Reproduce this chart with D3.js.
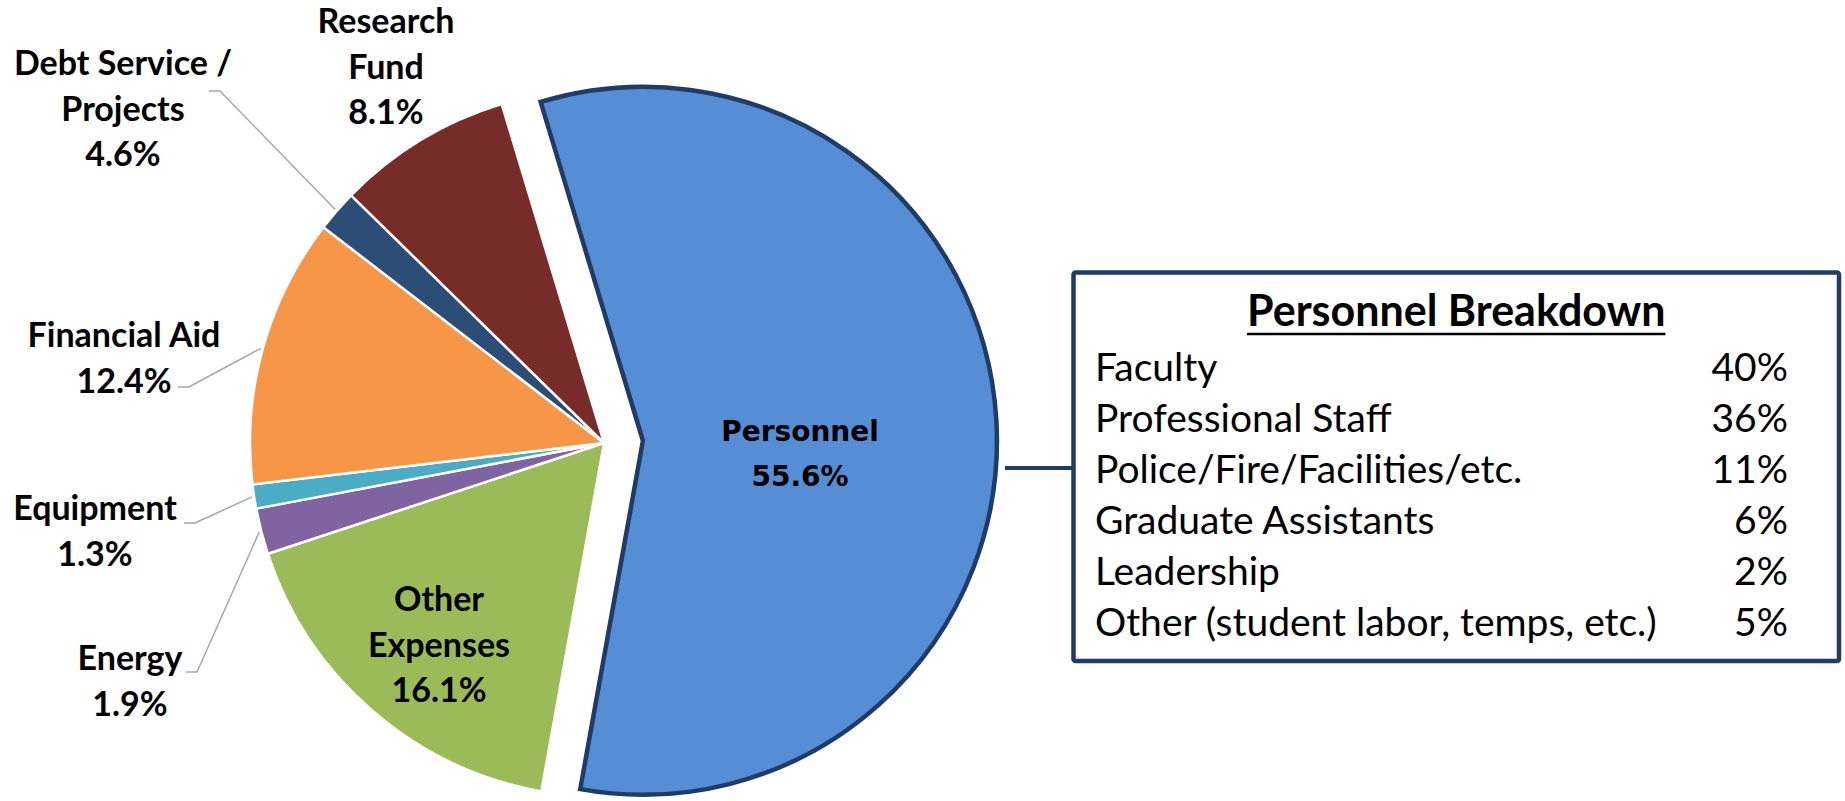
<!DOCTYPE html>
<html>
<head>
<meta charset="utf-8">
<script src="https://cdn.jsdelivr.net/npm/d3@7"></script>
<style>
    body { margin: 0; background: #fff; }
    text { font-family: Lato, 'Open Sans', sans-serif; }
</style>
</head>
<body>
<svg id="drawing_region"></svg>
<script>
// slices run clockwise, starting with Personnel
const categories = ['Personnel', 'Other Expenses', 'Energy', 'Equipment', 'Financial Aid', 'Debt Service / Projects', 'Research Fund'];
// size of each slice as drawn in the picture (% of circle)
const shares = [57.5, 17.1, 2.1, 1.1, 12.3, 1.9, 8.0];
// percentages printed on the labels
const pctLabels = ['55.6%', '16.1%', '1.9%', '1.3%', '12.4%', '4.6%', '8.1%'];
const colors = ['#558ed5', '#9bbb59', '#8064a2', '#4bacc6', '#f79646', '#2c4d75', '#772c2a'];

const breakdownItems = ['Faculty', 'Professional Staff', 'Police/Fire/Facilities/etc.', 'Graduate Assistants', 'Leadership', 'Other (student labor, temps, etc.)'];
const breakdownValues = ['40%', '36%', '11%', '6%', '2%', '5%'];

const data = categories.map((c, i) => ({ category: c, share: shares[i], pct: pctLabels[i], color: colors[i] }));

const config = {
    width: 1845,
    height: 801,
    cx: 604,
    cy: 443,
    radius: 354,
    explode: 39,
    startDeg: -16.8,
    navy: '#1f3b66'
};

// where the label blocks sit (first baseline), and where leaders start
const labelLayout = {
    'Personnel':               { x: 800, y: 441, lines: ['Personnel'], inside: true, verdana: true },
    'Other Expenses':          { x: 439, y: 611, lines: ['Other', 'Expenses'], inside: true },
    'Energy':                  { x: 130, y: 670, lines: ['Energy'], leader: [186, 672] },
    'Equipment':               { x: 95,  y: 520, lines: ['Equipment'], leader: [184, 523] },
    'Financial Aid':           { x: 124, y: 347, lines: ['Financial Aid'], leader: [178, 387] },
    'Debt Service / Projects': { x: 123, y: 75,  lines: ['Debt Service /', 'Projects'], leader: [209, 91] },
    'Research Fund':           { x: 386, y: 33,  lines: ['Research', 'Fund'] }
};

const svg = d3.select('#drawing_region')
    .attr('width', config.width)
    .attr('height', config.height);

const rad = d => d * Math.PI / 180;

const pie = d3.pie()
    .sort(null)
    .value(d => d.share)
    .startAngle(rad(config.startDeg))
    .endAngle(rad(config.startDeg + 360));

const arc = d3.arc()
    .innerRadius(0)
    .outerRadius(config.radius);

const arcs = pie(data);

const chart = svg.append('g')
    .attr('transform', `translate(${config.cx}, ${config.cy})`);

function offsetOf(d) {
    if (d.data.category !== 'Personnel') return [0, 0];
    const mid = (d.startAngle + d.endAngle) / 2;
    return [Math.sin(mid) * config.explode, -Math.cos(mid) * config.explode];
}

chart.selectAll('path.slice')
    .data(arcs)
    .enter()
    .append('path')
    .attr('class', 'slice')
    .attr('d', arc)
    .attr('transform', d => `translate(${offsetOf(d)})`)
    .attr('fill', d => d.data.color)
    .attr('stroke', d => d.data.category === 'Personnel' ? config.navy : '#fff')
    .attr('stroke-width', d => d.data.category === 'Personnel' ? 4.5 : 2.5)
    .attr('stroke-linejoin', 'miter');

// leader lines for the small slices
arcs.forEach(d => {
    const lay = labelLayout[d.data.category];
    if (!lay.leader) return;
    const mid = (d.startAngle + d.endAngle) / 2;
    const ex = config.cx + Math.sin(mid) * (config.radius + 2);
    const ey = config.cy - Math.cos(mid) * (config.radius + 2);
    const [lx, ly] = lay.leader;
    svg.append('polyline')
        .attr('points', `${lx},${ly} ${lx + 11},${ly} ${ex},${ey}`)
        .attr('fill', 'none')
        .attr('stroke', '#a6a6a6')
        .attr('stroke-width', 1.5);
});

// slice labels
const lineGap = 45.5;
arcs.forEach(d => {
    const lay = labelLayout[d.data.category];
    const lines = lay.lines.concat([d.data.pct]);
    const t = svg.append('text')
        .attr('text-anchor', 'middle')
        .attr('font-weight', 700)
        .attr('font-size', lay.verdana ? 28 : 34)
        .style('font-family', lay.verdana ? "'DejaVu Sans', Verdana, sans-serif" : null)
        .attr('fill', '#000');
    lines.forEach((s, i) => {
        t.append('tspan')
            .attr('x', lay.x)
            .attr('y', lay.y + i * (lay.verdana ? 45 : lineGap))
            .text(s);
    });
});

// Personnel breakdown box
const box = { x: 1073.5, y: 272.5, w: 765.5, h: 388.5 };
const pers = arcs[0];
const [ox, oy] = offsetOf(pers);
const connY = 468;

svg.append('line')
    .attr('x1', config.cx + ox + config.radius + 8)
    .attr('x2', box.x)
    .attr('y1', connY)
    .attr('y2', connY)
    .attr('stroke', config.navy)
    .attr('stroke-width', 4);

svg.append('rect')
    .attr('x', box.x)
    .attr('y', box.y)
    .attr('width', box.w)
    .attr('height', box.h)
    .attr('rx', 2)
    .attr('fill', '#fff')
    .attr('stroke', config.navy)
    .attr('stroke-width', 4.5);

const title = svg.append('text')
    .attr('x', box.x + box.w / 2)
    .attr('y', 326)
    .attr('text-anchor', 'middle')
    .attr('font-weight', 700)
    .attr('font-size', 43)
    .text('Personnel Breakdown');

const tw = title.node().getComputedTextLength();
svg.append('line')
    .attr('x1', box.x + box.w / 2 - tw / 2)
    .attr('x2', box.x + box.w / 2 + tw / 2)
    .attr('y1', 334)
    .attr('y2', 334)
    .attr('stroke', '#000')
    .attr('stroke-width', 2.7);

const rowY = d3.scaleBand()
    .domain(breakdownItems)
    .range([354, 354 + 51 * breakdownItems.length]);

svg.selectAll('text.item')
    .data(breakdownItems)
    .enter()
    .append('text')
    .attr('class', 'item')
    .attr('x', 1095)
    .attr('y', d => rowY(d) + 27)
    .attr('font-size', 39)
    .text(d => d);

svg.selectAll('text.value')
    .data(breakdownValues)
    .enter()
    .append('text')
    .attr('class', 'value')
    .attr('x', 1788)
    .attr('y', (d, i) => rowY(breakdownItems[i]) + 27)
    .attr('text-anchor', 'end')
    .attr('font-size', 39)
    .text(d => d);
</script>
</body>
</html>
